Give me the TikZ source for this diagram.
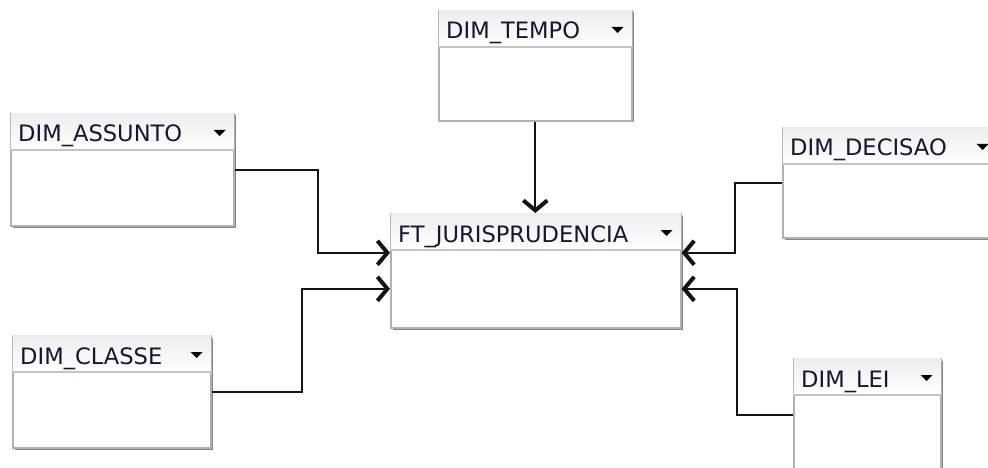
\documentclass[tikz,border=0pt]{standalone}
\usepackage{fontspec}
\setmainfont{DejaVu Sans}
\usetikzlibrary{arrows.meta}
\definecolor{bordc}{HTML}{B0B0B0}
\definecolor{shadc}{HTML}{858585}
\definecolor{sepc}{HTML}{C4C4C4}
\definecolor{txtc}{HTML}{1A1430}
\definecolor{linec}{HTML}{141414}
\tikzset{
  tablebox/.style={draw=bordc, line width=1.6pt, fill=white, inner sep=0pt},
  tshadow/.style={fill=shadc},
  tlabel/.style={inner sep=0pt, anchor=base west, text=txtc, font=\fontsize{22.6}{24}\selectfont},
  tri/.style={fill=black},
  conn/.style={draw=linec, line width=2pt, -{Straight Barb[length=10pt,width=24pt,line width=4pt 0]}},
}
\newcommand\erbox[6]{%
  \fill[tshadow] (#2+2.5,#3+2.5) rectangle (#2+#4+2.5,#3+#5+2.5);
  \node[tablebox, minimum width=#4pt, minimum height=#5pt, anchor=north west] (#1) at (#2,#3) {};
  \shade[top color=gray!14, bottom color=white] ([shift={(0.8pt,-0.8pt)}]#1.north west) rectangle ([shift={(-0.8pt,-37pt)}]#1.north east);
  \draw[sepc, line width=1.2pt] ([yshift=-37pt]#1.north west) -- ([yshift=-37pt]#1.north east);
  \node[tlabel] at ([shift={(8pt,-29pt)}]#1.north west) {#6};
  \fill[tri] ([shift={(-21pt,-17pt)}]#1.north east) -- ++(12,0) -- ++(-6,6) -- cycle;
}
\begin{document}
\begin{tikzpicture}[x=1pt,y=-1pt]
\useasboundingbox (0,0) rectangle (988,468);
\fill[white] (0,0) rectangle (988,468);
\clip (0,0) rectangle (988,468);
\erbox{tempo}{438}{10}{193}{110}{DIM\_TEMPO}
\erbox{ft}{390}{213}{290}{114}{FT\_JURISPRUDENCIA}
\erbox{assunto}{10}{113}{223}{112}{DIM\_ASSUNTO}
\erbox{decisao}{782}{127}{214}{110}{DIM\_DECISAO}
\erbox{lei}{793}{358}{147}{112}{DIM\_LEI}
\erbox{classe}{12}{335}{198}{112}{DIM\_CLASSE}
\draw[conn] (tempo.south) -- (tempo.south |- ft.north);
\draw[conn] (assunto.east) -- ++(83,0) |- ([yshift=18pt]ft.west);
\draw[conn] (classe.east) -- ++(90,0) |- ([yshift=-18pt]ft.west);
\draw[conn] (decisao.west) -- ++(-47,0) |- ([yshift=18pt]ft.east);
\draw[conn] (lei.west) -- ++(-56,0) |- ([yshift=-18pt]ft.east);
\end{tikzpicture}
\end{document}
